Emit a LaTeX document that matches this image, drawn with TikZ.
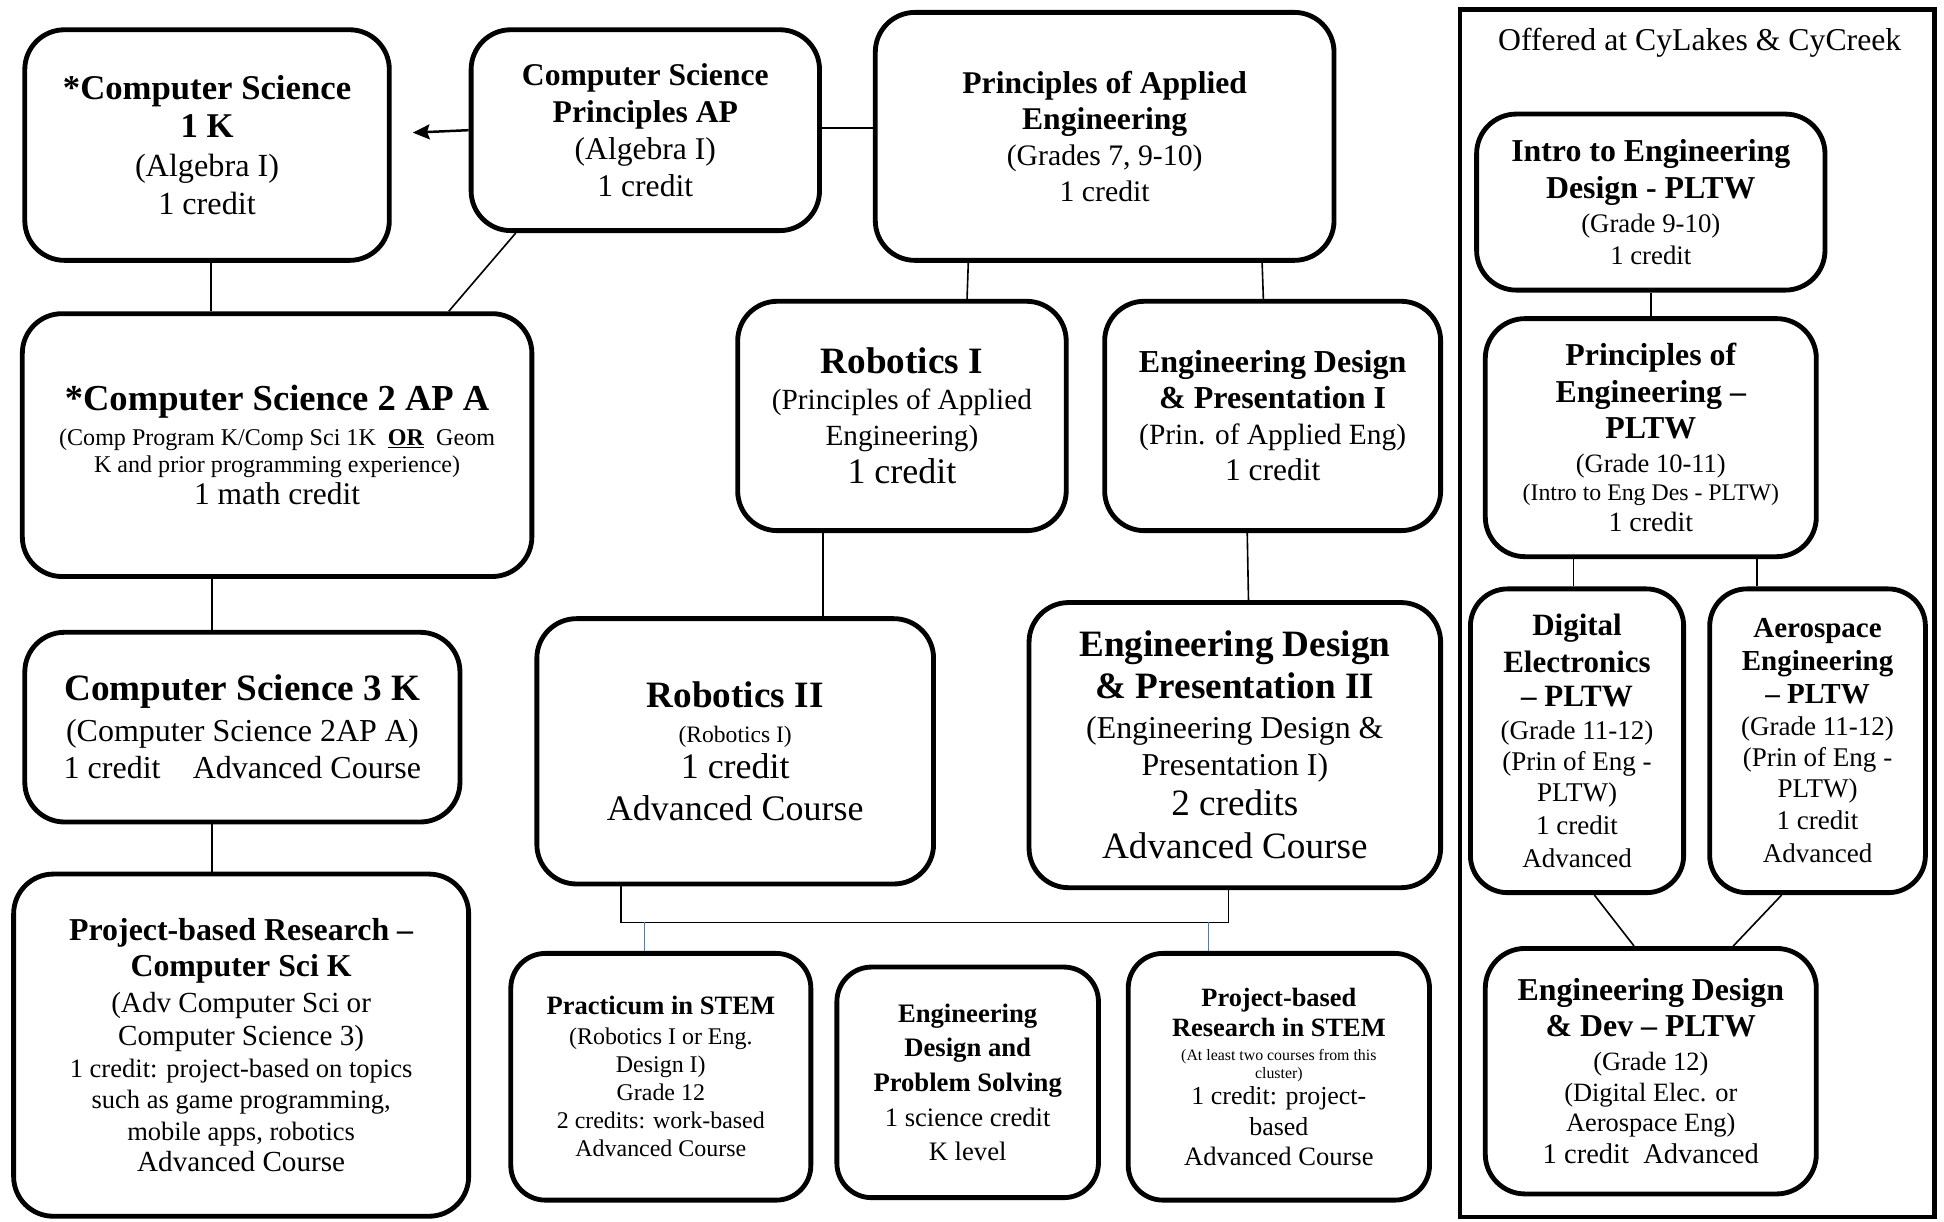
\documentclass[tikz,border=0pt]{standalone}
\usepackage{fontspec}
\setmainfont{Liberation Serif}
\usepackage{tikz}
\usetikzlibrary{arrows.meta}
\definecolor{linkblue}{HTML}{4A7EBB}
\newcommand{\titlef}[2]{{\fontsize{#1}{#1}\selectfont\bfseries #2}}
\newcommand{\bodyf}[2]{{\fontsize{#1}{#1}\selectfont #2}}

\begin{document}
\begin{tikzpicture}[
        x=1pt, y=-1pt,
        course/.style={
        draw, line width=3.9pt, rounded corners=32pt, align=center, inner sep=2pt
        },
        link/.style={line width=1.3pt},
        bluelink/.style={line width=1pt, draw=linkblue},
        campus/.style={draw, line width=3.6pt, minimum width=383pt, minimum height=974pt}
        ]
        \useasboundingbox (0,0) rectangle (1568,985);

        % computer science column
        \node[course, minimum width=294pt, minimum height=186pt, font=\fontsize{26}{31}\selectfont] (cs1) at (167,117)
            {\titlef{28}{*Computer Science}\\ \titlef{28}{1 K}\\ (Algebra I)\\ 1 credit};
        \node[course, minimum width=281pt, minimum height=162pt, font=\fontsize{25.5}{30}\selectfont] (csp) at (520.5,105)
            {\titlef{25.5}{Computer Science}\\ \titlef{25.5}{Principles AP}\\ (Algebra I)\\ 1 credit};
        \node[course, minimum width=411pt, minimum height=212pt, font=\fontsize{19.4}{22}\selectfont] (cs2) at (223.5,359)
            {\titlef{29.5}{*Computer Science 2 AP A}\\[6pt]
             (Comp Program K/Comp Sci 1K\ \ \underline{\textbf{OR}}\ \ Geom\\
             K and prior programming experience)\\[4pt]
             \bodyf{25.4}{1 math credit}};
        \node[course, minimum width=351pt, minimum height=153pt, font=\fontsize{25.8}{30}\selectfont] (cs3) at (195.5,586.5)
            {\titlef{30}{Computer Science 3 K}\\[3pt] (Computer Science 2AP A)\\ 1 credit\hspace{26pt}Advanced Course};
        \node[course, minimum width=367pt, minimum height=276pt, font=\fontsize{21.4}{25.5}\selectfont] (pbrcs) at (194.5,843)
            {\titlef{25.7}{Project-based Research --}\\[3.5pt]
             \titlef{25.7}{Computer Sci K}\\[3.5pt]
             \bodyf{23.5}{(Adv Computer Sci or}\\[1.5pt]
             \bodyf{23.5}{Computer Science 3)}\\
             1 credit: project-based on topics\\
             such as game programming,\\
             mobile apps, robotics\\
             \bodyf{23.5}{Advanced Course}};

        % engineering column
        \node[course, minimum width=370pt, minimum height=200pt, font=\fontsize{24}{29}\selectfont] (pae) at (891,110)
            {\titlef{25.5}{Principles of Applied}\\ \titlef{25.5}{Engineering}\\ (Grades 7, 9-10)\\ 1 credit};
        \node[course, minimum width=265pt, minimum height=185pt, font=\fontsize{23.6}{29}\selectfont] (rob1) at (727.5,335.5)
            {\titlef{30}{Robotics I}\\ (Principles of Applied\\ Engineering)\\[2pt] \bodyf{29}{1 credit}};
        \node[course, minimum width=271pt, minimum height=185pt, font=\fontsize{23.7}{29}\selectfont] (edp1) at (1026.5,335.5)
            {\titlef{25.8}{Engineering Design}\\ \titlef{25.8}{\& Presentation I}\\ (Prin. of Applied Eng)\\ \bodyf{25.4}{1 credit}};
        \node[course, minimum width=320pt, minimum height=214pt, font=\fontsize{29}{28.5}\selectfont] (rob2) at (593,606)
            {\titlef{30}{Robotics II}\\ \bodyf{19}{(Robotics I)}\\ 1 credit\\[6pt] Advanced Course};
        \node[course, minimum width=332pt, minimum height=230pt, font=\fontsize{25.7}{32}\selectfont] (edp2) at (996,601)
            {\titlef{30}{Engineering Design}\\[2pt]
             \titlef{30}{\& Presentation II}\\
             (Engineering Design \&\\[-2pt]
             Presentation I)\\
             \bodyf{30}{2 credits}\\[3pt]
             \bodyf{30}{Advanced Course}};

        % bottom row
        \node[course, rounded corners=28pt, minimum width=242pt, minimum height=199pt, font=\fontsize{19.3}{22.6}\selectfont] (prac) at (533,868.5)
            {\titlef{21.4}{Practicum in STEM}\\[1.5pt] (Robotics I or Eng.\\ Design I)\\ Grade 12\\ 2 credits: work-based\\ Advanced Course};
        \node[course, rounded corners=28pt, minimum width=211pt, minimum height=186pt, font=\fontsize{21.5}{28}\selectfont] (edps) at (780.5,873)
            {\titlef{21.5}{Engineering}\\ \titlef{21.5}{Design and}\\ \titlef{21.5}{Problem Solving}\\ 1 science credit\\ K level};
        \node[course, rounded corners=28pt, minimum width=243pt, minimum height=199pt, font=\fontsize{20.9}{24.5}\selectfont] (pbrs) at (1031.5,868.5)
            {\titlef{21.3}{Project-based}\\
             \titlef{21.3}{Research in STEM}\\[-5.5pt]
             \bodyf{12.8}{(At least two courses from this}\\[-9.5pt]
             \bodyf{12.8}{cluster)}\\[-3.5pt]
             1 credit: project-\\
             based\\
             \bodyf{21.4}{Advanced Course}};

        % PLTW campus box
        \node[campus] (cy) at (1369,494.5) {};
        \node[anchor=base, font=\fontsize{25.6}{30}\selectfont] (offer) at (1371,41) {Offered at CyLakes \& CyCreek};
        \node[course, minimum width=281pt, minimum height=142pt, font=\fontsize{21.6}{27}\selectfont] (ied) at (1331.5,163)
            {\titlef{25.7}{Intro to Engineering}\\[3pt] \titlef{25.7}{Design - PLTW}\\ (Grade 9-10)\\[-1pt] 1 credit};
        \node[course, minimum width=267pt, minimum height=192pt, font=\fontsize{21.4}{27}\selectfont] (poe) at (1331.5,353)
            {\titlef{25.7}{Principles of}\\[3pt]
             \titlef{25.7}{Engineering --}\\[2pt]
             \titlef{25.7}{PLTW}\\
             (Grade 10-11)\\[-4pt]
             \bodyf{19.2}{(Intro to Eng Des - PLTW)}\\[-2pt]
             \bodyf{22.5}{1 credit}};
        \node[course, rounded corners=30pt, minimum width=172pt, minimum height=245pt, font=\fontsize{21.8}{26.5}\selectfont] (de) at (1272,597.5)
            {\titlef{25}{Digital}\\[3pt] \titlef{25}{Electronics}\\[1pt] \titlef{25}{-- PLTW}\\
             (Grade 11-12)\\[-1.5pt] (Prin of Eng -\\[-1.5pt] PLTW)\\ 1 credit\\ Advanced};
        \node[course, rounded corners=30pt, minimum width=174pt, minimum height=245pt, font=\fontsize{21.8}{26.3}\selectfont] (ae) at (1466,597.5)
            {\titlef{23.4}{Aerospace}\\ \titlef{23.4}{Engineering}\\ \titlef{23.4}{-- PLTW}\\
             (Grade 11-12)\\[-1.5pt] (Prin of Eng -\\[-1.5pt] PLTW)\\ 1 credit\\ Advanced};
        \node[course, minimum width=267pt, minimum height=198pt, font=\fontsize{21.3}{26}\selectfont] (edd) at (1331.5,864)
            {\titlef{25.7}{Engineering Design}\\[3pt]
             \titlef{25.7}{\& Dev -- PLTW}\\[2pt]
             (Grade 12)\\[-1pt]
             (Digital Elec. or\\[-2pt]
             Aerospace Eng)\\
             \bodyf{23}{1 credit\ \ Advanced}};

        \coordinate (arr) at (333,107);

        \draw[line width=2pt, -{Stealth[length=13.5pt, width=12pt, inset=2pt]}] (csp.west) -- (arr);
        \draw[link] ([yshift=2pt]csp.east) -- ([yshift=7pt]pae.west);
        \draw[link] ([xshift=3pt]cs1.south) -- ([xshift=-53.5pt]cs2.north);
        \draw[link] ([xshift=-104.5pt]csp.south) -- ([xshift=138.5pt]cs2.north);
        \draw[link] ([xshift=-52.5pt]cs2.south) -- ([xshift=-24.5pt]cs3.north);
        \draw[link] ([xshift=-24.5pt]cs3.south) -- ([xshift=-23.5pt]pbrcs.north);

        \draw[link] ([xshift=-110pt]pae.south) -- ([xshift=52.5pt]rob1.north);
        \draw[link] ([xshift=127pt]pae.south) -- ([xshift=-7.5pt]edp1.north);
        \draw[link] ([xshift=-63.5pt]rob1.south) -- ([xshift=71pt]rob2.north);
        \draw[link] ([xshift=-20.5pt]edp1.south) -- ([xshift=11pt]edp2.north);
        \draw[link] ([xshift=-92pt]rob2.south) -- ++(0,29) -| ([xshift=-5pt]edp2.south);
        \draw[bluelink] ([xshift=-13pt]prac.north) -- ++(0,-23);
        \draw[bluelink] ([xshift=-56.5pt]pbrs.north) -- ++(0,-23);

        \draw[link] (ied.south) -- (poe.north);
        \draw[link] ([xshift=-62.5pt]poe.south) -- ([xshift=-3pt]de.north);
        \draw[link] ([xshift=85.5pt]poe.south) -- ([xshift=-49pt]ae.north);
        \draw[link] ([xshift=14pt]de.south) -- ([xshift=-13.5pt]edd.north);
        \draw[link] ([xshift=-29pt]ae.south) -- ([xshift=66.5pt]edd.north);
    \end{tikzpicture}
\end{document}
